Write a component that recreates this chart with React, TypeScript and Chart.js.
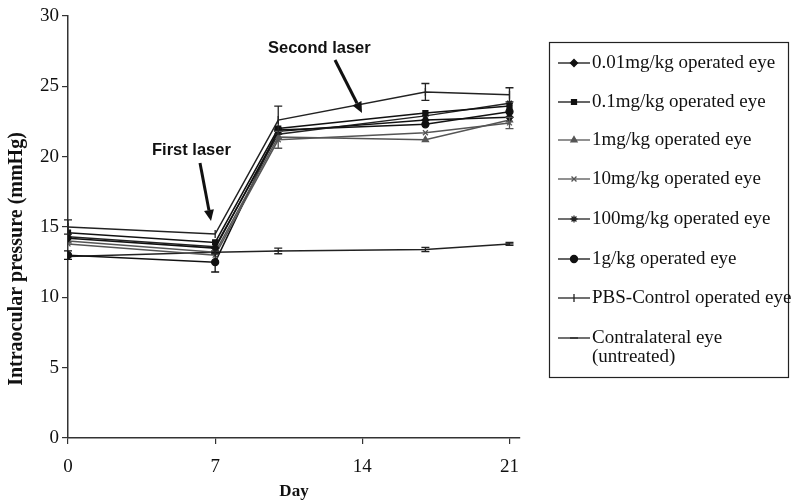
import React, { useEffect, useRef } from "react";
import Chart from "chart.js/auto";
import { drawPoint } from "chart.js/helpers";

const days = [0, 7, 10, 17, 21];
const xTicks = [0, 7, 14, 21];
const yTicks = [0, 5, 10, 15, 20, 25, 30];

const labels = [
  "0.01mg/kg operated eye",
  "0.1mg/kg operated eye",
  "1mg/kg operated eye",
  "10mg/kg operated eye",
  "100mg/kg operated eye",
  "1g/kg operated eye",
  "PBS-Control operated eye",
  "Contralateral eye",
];

const v001 = [14.2, 13.5, 21.8, 22.6, 22.8];
const v01 = [14.6, 13.9, 22.0, 23.1, 23.6];
const v1 = [14.0, 13.2, 21.4, 21.2, 22.6];
const v10 = [13.8, 13.0, 21.2, 21.7, 22.4];
const v100 = [14.3, 13.6, 21.6, 22.9, 23.8];
const v1g = [13.0, 12.5, 21.9, 22.3, 23.2];
const vPBS = [15.0, 14.5, 22.6, 24.6, 24.4];
const vContra = [12.9, 13.2, 13.3, 13.4, 13.8];

const e001 = [0, 0, 0, 0, 0];
const e01 = [0, 0, 0, 0, 0];
const e1 = [0, 0, 0, 0, 0];
const e10 = [0, 0, 0.6, 0, 0.4];
const e100 = [0, 0, 0, 0, 0];
const e1g = [0.3, 0.7, 0, 0, 0];
const ePBS = [0.5, 0, 1.0, 0.6, 0.5];
const eContra = [0, 0.1, 0.2, 0.15, 0.1];

const values = [v001, v01, v1, v10, v100, v1g, vPBS, vContra];
const errors = [e001, e01, e1, e10, e100, e1g, ePBS, eContra];
const pointStyles = ["rectRot", "rect", "triangle", "crossRot", "star", "circle", "line", "line"];
const rotations = [0, 0, 0, 0, 0, 0, 90, 0];
const colors = ["#111", "#111", "#555", "#555", "#222", "#111", "#222", "#222"];

const SERIF = "'Liberation Serif', 'DejaVu Serif', serif";
const SANS = "'Liberation Sans', Arial, sans-serif";

const errorBarPlugin = {
  id: "errorBars",
  afterDatasetsDraw(chart: any) {
    const ctx = chart.ctx;
    const xs = chart.scales.x;
    const ys = chart.scales.y;
    ctx.save();
    chart.data.datasets.forEach((ds: any, i: number) => {
      const errs = errors[i];
      ctx.strokeStyle = colors[i];
      ctx.lineWidth = 1.3;
      ds.data.forEach((p: any, j: number) => {
        const e = errs[j];
        if (!e) return;
        const x = xs.getPixelForValue(p.x);
        const y1 = ys.getPixelForValue(p.y + e);
        const y2 = ys.getPixelForValue(p.y - e);
        ctx.beginPath();
        ctx.moveTo(x, y1);
        ctx.lineTo(x, y2);
        ctx.moveTo(x - 4, y1);
        ctx.lineTo(x + 4, y1);
        ctx.moveTo(x - 4, y2);
        ctx.lineTo(x + 4, y2);
        ctx.stroke();
      });
    });
    ctx.restore();
  },
};

function arrow(ctx: CanvasRenderingContext2D, x1: number, y1: number, x2: number, y2: number) {
  const ang = Math.atan2(y2 - y1, x2 - x1);
  const hl = 11;
  const hw = 5;
  const bx = x2 - hl * Math.cos(ang);
  const by = y2 - hl * Math.sin(ang);
  ctx.beginPath();
  ctx.lineWidth = 3;
  ctx.moveTo(x1, y1);
  ctx.lineTo(bx, by);
  ctx.stroke();
  ctx.beginPath();
  ctx.moveTo(x2, y2);
  ctx.lineTo(bx + hw * Math.sin(ang), by - hw * Math.cos(ang));
  ctx.lineTo(bx - hw * Math.sin(ang), by + hw * Math.cos(ang));
  ctx.closePath();
  ctx.fill();
}

const annotationPlugin = {
  id: "annot",
  afterDraw(chart: any) {
    const ctx = chart.ctx;
    ctx.save();
    ctx.fillStyle = "#111";
    ctx.strokeStyle = "#111";
    ctx.font = `bold 16.5px ${SANS}`;
    ctx.textAlign = "left";
    ctx.textBaseline = "middle";
    ctx.fillText("First laser", 152, 150);
    ctx.fillText("Second laser", 268, 48);
    arrow(ctx, 200, 163, 211, 221);
    arrow(ctx, 335, 60, 362, 113);
    // y axis title
    ctx.save();
    ctx.translate(17, 259);
    ctx.rotate(-Math.PI / 2);
    ctx.textAlign = "center";
    ctx.font = `bold 20px ${SERIF}`;
    ctx.fillText("Intraocular pressure (mmHg)", 0, 0);
    ctx.restore();
    ctx.restore();
  },
};

const legendPlugin = {
  id: "customLegend",
  afterDraw(chart: any) {
    const ctx = chart.ctx;
    ctx.save();
    ctx.strokeStyle = "#222";
    ctx.lineWidth = 1.2;
    ctx.strokeRect(549.5, 42.5, 239, 335);
    const ys = [63, 102, 140, 179, 219, 259, 298, 338];
    labels.forEach((lab, i) => {
      const y = ys[i];
      ctx.strokeStyle = colors[i];
      ctx.fillStyle = colors[i];
      ctx.lineWidth = 1.3;
      ctx.beginPath();
      ctx.moveTo(558, y);
      ctx.lineTo(590, y);
      ctx.stroke();
      drawPoint(ctx, { pointStyle: pointStyles[i] as any, rotation: rotations[i], radius: i >= 6 ? 4 : 3.5, borderWidth: 1.3 } as any, 574, y);
      ctx.fillStyle = "#111";
      ctx.font = `19px ${SERIF}`;
      ctx.textAlign = "left";
      ctx.textBaseline = "middle";
      ctx.fillText(lab, 592, y);
      if (i === 7) ctx.fillText("(untreated)", 592, 357);
    });
    ctx.restore();
  },
};

export default function App() {
  const ref = useRef<HTMLCanvasElement>(null);
  useEffect(() => {
    document.body.style.margin = "0";
    const canvas = ref.current!;
    const datasets = values.map((vals, i) => ({
      label: labels[i],
      data: vals.map((v, j) => ({ x: days[j], y: v })),
      borderColor: colors[i],
      backgroundColor: colors[i],
      borderWidth: 1.5,
      pointStyle: pointStyles[i],
      rotation: rotations[i],
      pointRadius: i >= 6 ? 4 : 3.5,
      pointBorderWidth: 1.3,
      tension: 0,
      fill: false,
    }));
    const chart = new Chart(canvas, {
      type: "line",
      data: { datasets },
      options: {
        animation: false,
        responsive: false,
        layout: { padding: { top: 16, right: 271, left: 0, bottom: 0 } },
        plugins: { legend: { display: false }, tooltip: { enabled: false } },
        scales: {
          x: {
            type: "linear",
            min: 0,
            max: 21.5,
            afterBuildTicks: (s: any) => {
              s.ticks = xTicks.map((v) => ({ value: v }));
            },
            afterFit: (s: any) => {
              s.height = 66;
            },
            grid: { drawOnChartArea: false, drawTicks: true, tickLength: 6, color: "#333", lineWidth: 1.2 },
            border: { color: "#333", width: 1.5 },
            ticks: { font: { family: SERIF, size: 19 }, color: "#111", padding: 12 },
            title: { display: true, text: "Day", font: { family: SERIF, size: 17, weight: "bold" }, color: "#111", padding: { top: 0, bottom: 2 } },
          },
          y: {
            min: 0,
            max: 30,
            afterBuildTicks: (s: any) => {
              s.ticks = yTicks.map((v) => ({ value: v }));
            },
            afterFit: (s: any) => {
              s.width = 68;
            },
            grid: { drawOnChartArea: false, drawTicks: true, tickLength: 6, color: "#333", lineWidth: 1.2 },
            border: { color: "#333", width: 1.5 },
            ticks: { font: { family: SERIF, size: 19 }, color: "#111", padding: 3 },
            title: { display: false },
          },
        },
      },
      plugins: [errorBarPlugin, annotationPlugin, legendPlugin],
    } as any);
    return () => chart.destroy();
  }, []);
  return (
    <div style={{ position: "absolute", left: 0, top: 0, width: 791, height: 504, background: "#fff" }}>
      <canvas ref={ref} width={791} height={504} />
    </div>
  );
}
